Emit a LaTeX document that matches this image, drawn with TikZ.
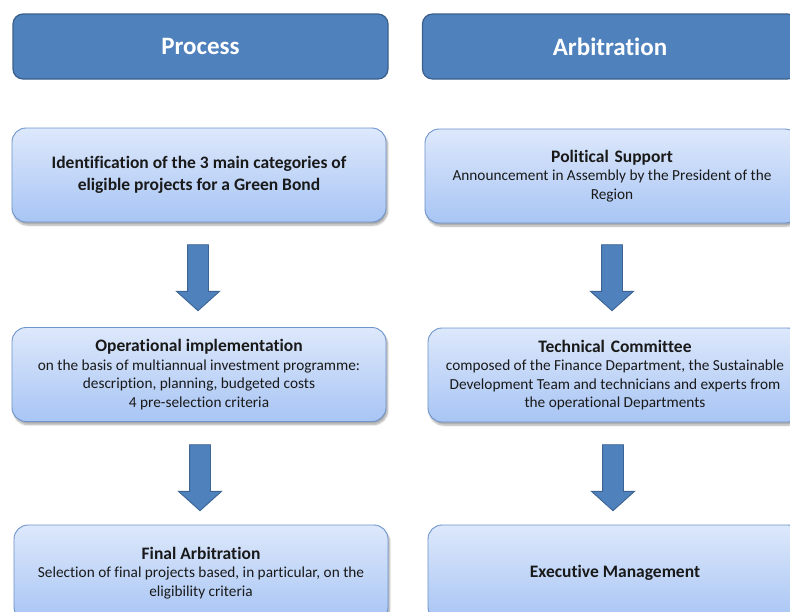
\documentclass[tikz,border=0pt]{standalone}
\usepackage{fontspec}
\setmainfont{Carlito}[RawFeature={-liga;-clig;-calt;-dlig}]
\usetikzlibrary{shapes.arrows,shadows.blur}
\definecolor{hdfill}{HTML}{4F81BD}
\definecolor{hdline}{HTML}{3A5F8C}
\definecolor{bxtop}{HTML}{DDE8FB}
\definecolor{bxbot}{HTML}{A8C5F4}
\definecolor{bxline}{HTML}{6E94CC}
\definecolor{arline}{HTML}{3C6394}
\newcommand{\ttlfont}{\fontsize{17.5}{20}\selectfont\bfseries}
\tikzset{
  header/.style={draw=hdline, line width=1.2pt, fill=hdfill, rounded corners=10pt,
    minimum width=375pt, minimum height=65pt, text=white,
    font=\fontsize{25}{28}\selectfont\bfseries},
  stepbox/.style={draw=bxline, line width=0.9pt, rounded corners=14pt,
    top color=bxtop, bottom color=bxbot, minimum width=374pt, minimum height=94pt,
    align=center, text=black!90, inner sep=2pt,
    blur shadow={shadow xshift=1.5pt, shadow yshift=-3pt, shadow blur steps=6, shadow opacity=35},
    font=\fontsize{15.3}{18.5}\selectfont},
  bigarrow/.style={single arrow, draw=arline, line width=0.9pt, fill=hdfill,
    shape border rotate=270, minimum height=66pt, inner sep=10pt,
    single arrow head extend=11pt, single arrow tip angle=96}
}
\begin{document}
\begin{tikzpicture}[x=1pt,y=-1pt]
\useasboundingbox (0,0) rectangle (790,611);
\clip (0,0) rectangle (790,611);
% headers
\node[header] (hp) at (200.5,46.5) {Process};
\node[header] (ha) at (610,46.5) {Arbitration};
% left column
\node[stepbox, font=\fontsize{17.5}{22}\selectfont\bfseries] (p1) at (199,175)
  {Identification of the 3 main categories of\\eligible projects for a Green Bond};
\node[stepbox] (p2) at (199,374.5)
  {{\ttlfont Operational implementation}\\
   on the basis of multiannual investment programme:\\
   description, planning, budgeted costs\\4 pre-selection criteria};
\node[stepbox, minimum height=96pt] (p3) at (201,573)
  {{\ttlfont Final Arbitration}\\
   Selection of final projects based, in particular, on the\\eligibility criteria};
% right column
\node[stepbox] (r1) at (612,176)
  {{\ttlfont Political\,\,Support}\\
   Announcement in Assembly by the President of the\\Region};
\node[stepbox] (r2) at (615,375)
  {{\ttlfont Technical\,\,Committee}\\
   composed of the Finance Department, the Sustainable\\
   Development Team and technicians and experts from\\
   the operational Departments};
\node[stepbox, minimum height=96pt, font=\ttlfont] (r3) at (615,573)
  {Executive Management};
% arrows
\node[bigarrow] (a1) at (198,273) {};
\node[bigarrow] (a2) at (200,473) {};
\node[bigarrow] (a3) at (612,273) {};
\node[bigarrow] (a4) at (613,473) {};
\end{tikzpicture}
\end{document}
